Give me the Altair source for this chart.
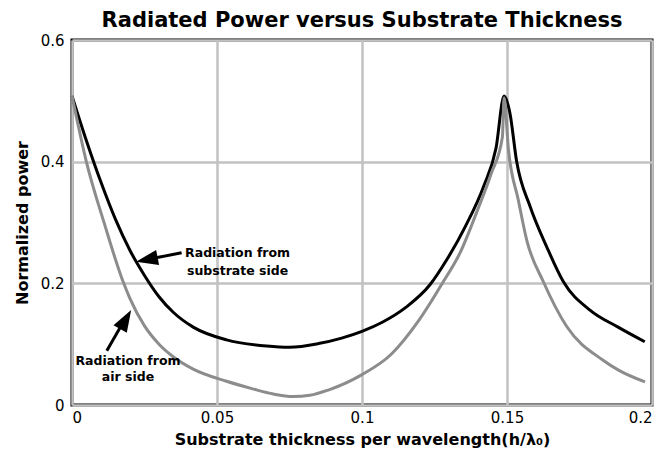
import altair as alt
import pandas as pd

# Radiation from substrate side (black)
sub_x = [0.0, 0.005, 0.010, 0.015, 0.020, 0.025, 0.030, 0.035, 0.0418, 0.0533, 0.0671, 0.075,
         0.085, 0.093, 0.1, 0.107, 0.115, 0.1235, 0.129, 0.1357, 0.142, 0.1462, 0.149, 0.151,
         0.1533, 0.158, 0.1637, 0.1694, 0.1786, 0.1883, 0.1975]
sub_y = [0.508, 0.434, 0.366, 0.305, 0.254, 0.213, 0.178, 0.152, 0.128, 0.107, 0.097, 0.095,
         0.101, 0.110, 0.121, 0.136, 0.160, 0.198, 0.237, 0.294, 0.36, 0.422, 0.508, 0.480,
         0.401, 0.326, 0.260, 0.203, 0.156, 0.128, 0.104]

# Radiation from air side (grey)
air_x = [0.0, 0.0049, 0.0113, 0.0176, 0.020, 0.025, 0.030, 0.035, 0.0418, 0.0533, 0.062,
         0.0695, 0.0762, 0.082, 0.0886, 0.1, 0.110, 0.1196, 0.1277, 0.134, 0.1398, 0.1446,
         0.1484, 0.149, 0.1505, 0.1539, 0.1568, 0.1625, 0.1706, 0.183, 0.1886, 0.1976]
air_y = [0.508, 0.401, 0.296, 0.203, 0.175, 0.130, 0.100, 0.079, 0.059, 0.039, 0.027,
         0.018, 0.014, 0.016, 0.025, 0.05, 0.083, 0.139, 0.20, 0.252, 0.32, 0.381,
         0.440, 0.505, 0.420, 0.337, 0.271, 0.203, 0.129, 0.074, 0.057, 0.038]

x_ticks = [0, 0.05, 0.1, 0.15, 0.2]
y_ticks = [0, 0.2, 0.4, 0.6]

# annotations
ann_text = ["Radiation from", "substrate side", "Radiation from", "air side"]
ann_x = [0.0571, 0.0571, 0.0193, 0.0193]
ann_y = [0.2494, 0.2208, 0.0728, 0.0465]

arrow_x = [0.0378, 0.0120]
arrow_y = [0.2504, 0.0893]
arrow_x2 = [0.0285, 0.0168]
arrow_y2 = [0.2415, 0.1290]
head_x = [0.0258, 0.0185]
head_y = [0.2390, 0.1406]
head_angle = [259, 30]

sub_df = pd.DataFrame({"x": sub_x, "y": sub_y})
air_df = pd.DataFrame({"x": air_x, "y": air_y})
ann_df = pd.DataFrame({"x": ann_x, "y": ann_y, "t": ann_text})
arr_df = pd.DataFrame({"x": arrow_x, "y": arrow_y, "x2": arrow_x2, "y2": arrow_y2})
head_df = pd.DataFrame({"x": head_x, "y": head_y, "a": head_angle})

FONT = "DejaVu Sans"

xs = alt.Scale(domain=[0, 0.2], nice=False, zero=False)
ys = alt.Scale(domain=[0, 0.6], nice=False)

xaxis = alt.Axis(values=x_ticks, format="~g", title="Substrate thickness per wavelength(h/λ₀)",
                 grid=True, ticks=False, domain=False, labelPadding=5, titlePadding=6)
yaxis = alt.Axis(values=y_ticks, format="~g", title="Normalized power",
                 grid=True, ticks=False, domain=False, labelPadding=8, titlePadding=10)

base_x = alt.X("x:Q", scale=xs, axis=xaxis)
base_y = alt.Y("y:Q", scale=ys, axis=yaxis)

sub_line = alt.Chart(sub_df).mark_line(color="black", strokeWidth=3, interpolate="monotone").encode(
    x=base_x, y=base_y)
air_line = alt.Chart(air_df).mark_line(color="#8c8c8c", strokeWidth=3, interpolate="monotone").encode(
    x="x:Q", y="y:Q")

texts = alt.Chart(ann_df).mark_text(font=FONT, fontWeight="bold", fontSize=12.5,
                                    align="center", baseline="middle", color="black").encode(
    x="x:Q", y="y:Q", text="t:N")

arrows = alt.Chart(arr_df).mark_rule(color="black", strokeWidth=3).encode(
    x="x:Q", y="y:Q", x2="x2:Q", y2="y2:Q")

heads = alt.Chart(head_df).mark_point(shape="M0,-1L0.7,1L-0.7,1Z", filled=True, color="black",
                                      opacity=1, size=484, strokeWidth=0).encode(
    x="x:Q", y="y:Q", angle=alt.Angle("a:Q", scale=None))

chart = alt.layer(sub_line, air_line, arrows, heads, texts).properties(
    width=580, height=365,
    background="white",
    title=alt.Title("Radiated Power versus Substrate Thickness", fontSize=21, font=FONT,
                    fontWeight="bold", anchor="middle", offset=2, color="black"),
    autosize=alt.AutoSizeParams(type="none"),
    padding={"left": 64, "top": 32, "right": 10, "bottom": 50},
).configure_view(stroke="black", strokeWidth=3).configure_axis(
    gridColor="#c2c2c2", gridWidth=2.5, gridOpacity=1,
    labelFont=FONT, labelFontSize=15, labelColor="black",
    titleFont=FONT, titleFontSize=16, titleFontWeight="bold", titleColor="black",
)

chart.save("out.html", embed_options={"renderer": "svg", "actions": False})
